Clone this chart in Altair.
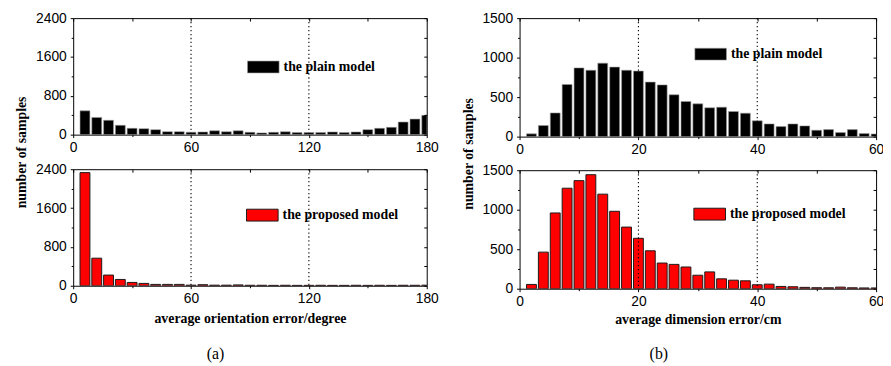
import altair as alt
import pandas as pd

# ---------------- data ----------------
orient_bins = [6, 12, 18, 24, 30, 36, 42, 48, 54, 60, 66, 72, 78, 84, 90,
               96, 102, 108, 114, 120, 126, 132, 138, 144, 150, 156, 162, 168, 174, 180]
plain_orient = [490, 355, 295, 192, 130, 123, 103, 62, 62, 50, 55, 80, 60, 80, 48,
                36, 48, 60, 42, 42, 42, 55, 42, 55, 103, 130, 150, 260, 320, 397]
proposed_orient = [2330, 568, 220, 130, 68, 48, 28, 28, 28, 12, 22, 12, 12, 18, 10,
                   10, 8, 10, 8, 8, 10, 8, 8, 10, 8, 10, 8, 10, 10, 12]

dim_bins = [2, 4, 6, 8, 10, 12, 14, 16, 18, 20, 22, 24, 26, 28, 30,
            32, 34, 36, 38, 40, 42, 44, 46, 48, 50, 52, 54, 56, 58, 60]
plain_dim = [35, 140, 300, 660, 870, 840, 930, 880, 840, 830, 690, 655, 530, 445, 415,
             365, 373, 318, 297, 200, 161, 127, 161, 136, 81, 89, 51, 89, 38, 34]
proposed_dim = [54, 463, 959, 1272, 1368, 1443, 1197, 980, 780, 638, 480, 325, 308, 275, 171,
                213, 125, 108, 100, 50, 58, 29, 25, 17, 13, 12, 20, 12, 10, 10]

orient_ticks = [0, 60, 120, 180]
orient_minor = [30, 90, 150]
orient_all = [0, 30, 60, 90, 120, 150, 180]
orient_lines = [60, 120]
orient_y_ticks = [0, 800, 1600, 2400]
orient_y_minor = [400, 1200, 2000]
orient_y_all = [0, 400, 800, 1200, 1600, 2000, 2400]

dim_ticks = [0, 20, 40, 60]
dim_minor = [10, 30, 50]
dim_all = [0, 10, 20, 30, 40, 50, 60]
dim_lines = [20, 40]
dim_y_ticks = [0, 500, 1000, 1500]
dim_y_minor = [250, 750, 1250]
dim_y_all = [0, 250, 500, 750, 1000, 1250, 1500]

PLAIN = "the plain model"
PROPOSED = "the proposed model"
SANS = "Liberation Sans"
SERIF = "Liberation Serif"
RECT = "M-1,-0.375H1V0.375H-1Z"


def panel(xs, ys, name, fill, stroke, sw, xdom, ydom,
          xmaj, xmin, xall, ymaj, ymin, yall, vlines,
          w, h, lx, ly, xtitle=None, ytitle=None, ytitle_y=0,
          xtitle_y=37, tag=None, tag_x=0, tag_y=0):
    df = pd.DataFrame({"x": xs, "y": ys, "model": [name] * len(xs)})
    base = alt.Chart(df)
    xscale = alt.Scale(domain=xdom, nice=False, zero=False, padding=0)
    yscale = alt.Scale(domain=ydom, nice=False, padding=0)

    xaxis_kw = dict(orient="bottom", values=xmaj, tickSize=3, labelPadding=3,
                    labelFlush=False, labelOverlap=False, format="d")
    if xtitle:
        xaxis_kw.update(title=xtitle, titleX=w / 2, titleY=xtitle_y,
                        titleBaseline="alphabetic")
    else:
        xaxis_kw.update(title=None)
    yaxis_kw = dict(orient="left", values=ymaj, tickSize=3, labelPadding=4,
                    labelFlush=False, labelOverlap=False, format="d")
    if ytitle:
        yaxis_kw.update(title=ytitle, titleX=-45, titleY=ytitle_y)
    else:
        yaxis_kw.update(title=None)

    bars = base.mark_bar(size=10, clip=True, stroke=stroke, strokeWidth=sw,
                         orient="vertical").encode(
        x=alt.X("x:Q", scale=xscale, axis=alt.Axis(**xaxis_kw)),
        y=alt.Y("y:Q", scale=yscale, axis=alt.Axis(**yaxis_kw)),
        color=alt.Color("model:N",
                        scale=alt.Scale(domain=[name], range=[fill]),
                        legend=alt.Legend(orient="none", legendX=lx, legendY=ly,
                                          title=None, symbolType=RECT,
                                          symbolSize=1024,
                                          symbolStrokeColor=stroke,
                                          symbolStrokeWidth=sw,
                                          symbolOpacity=1,
                                          labelFont=SERIF, labelFontWeight="bold",
                                          labelFontSize=14, labelColor="black",
                                          labelOffset=4, padding=0)),
    )

    rules = alt.Chart(pd.DataFrame({"v": vlines})).mark_rule(
        color="black", strokeWidth=1.1, strokeDash=[1.3, 2.7]
    ).encode(x=alt.X("v:Q", axis=None))

    minor = base.mark_point(opacity=0, size=1).encode(
        x=alt.X("x:Q", axis=alt.Axis(orient="bottom", values=xmin, tickSize=2,
                                     labels=False, title=None)),
        y=alt.Y("y:Q", axis=alt.Axis(orient="left", values=ymin, tickSize=2,
                                     labels=False, title=None)),
    )

    inward = base.mark_point(opacity=0, size=1).encode(
        x=alt.X("x:Q", axis=alt.Axis(orient="bottom", offset=-h, values=xall,
                                     tickSize=3, labels=False, title=None, zindex=1)),
        y=alt.Y("y:Q", axis=alt.Axis(orient="left", offset=-w, values=yall,
                                     tickSize=3, labels=False, title=None, zindex=1)),
    )

    layers = [bars, rules, minor, inward]
    if tag:
        layers.append(
            alt.Chart(pd.DataFrame({"t": [tag]})).mark_text(
                font=SERIF, fontSize=16, color="black", align="center",
                baseline="middle"
            ).encode(text="t:N", x=alt.value(tag_x), y=alt.value(tag_y))
        )
    return alt.layer(*layers).resolve_axis(x="independent", y="independent").properties(
        width=w, height=h)


lt = panel(orient_bins, plain_orient, PLAIN, "black", "#9a9a9a", 0.6,
           [0, 180], [0, 2400], orient_ticks, orient_minor, orient_all,
           orient_y_ticks, orient_y_minor, orient_y_all, orient_lines,
           358, 118, 176, 33, ytitle="number of samples", ytitle_y=135.5)
lb = panel(orient_bins, proposed_orient, PROPOSED, "#ff0000", "#1a1a1a", 1,
           [0, 180], [0, 2400], orient_ticks, orient_minor, orient_all,
           orient_y_ticks, orient_y_minor, orient_y_all, orient_lines,
           358, 118, 175, 30, xtitle="average orientation error/degree",
           xtitle_y=37, tag="(a)", tag_x=144, tag_y=187)
rt = panel(dim_bins, plain_dim, PLAIN, "black", "#9a9a9a", 0.6,
           [0, 60], [0, 1500], dim_ticks, dim_minor, dim_all,
           dim_y_ticks, dim_y_minor, dim_y_all, dim_lines,
           361, 120, 177, 20, ytitle="number of samples", ytitle_y=137)
rb = panel(dim_bins, proposed_dim, PROPOSED, "#ff0000", "#1a1a1a", 1,
           [0, 60], [0, 1500], dim_ticks, dim_minor, dim_all,
           dim_y_ticks, dim_y_minor, dim_y_all, dim_lines,
           361, 120, 176, 28, xtitle="average dimension error/cm",
           xtitle_y=35, tag="(b)", tag_x=141, tag_y=186)

left = alt.vconcat(lt, lb, spacing=35, bounds="flush").resolve_scale(color="independent")
right = alt.vconcat(rt, rb, spacing=34, bounds="flush").resolve_scale(color="independent")

chart = alt.hconcat(left, right, spacing=21).resolve_scale(
    color="independent"
).properties(
    padding={"left": 6, "top": 0, "right": -2, "bottom": 0},
    background="white",
).configure_axis(
    labelFont=SANS, labelFontSize=14, labelColor="black",
    tickColor="black", tickWidth=1, domain=False, grid=False,
    titleFont=SERIF, titleFontWeight="bold", titleFontSize=14, titleColor="black",
).configure_view(stroke="black", strokeWidth=1)

chart.save("out.html", embed_options={"renderer": "svg", "actions": False})
